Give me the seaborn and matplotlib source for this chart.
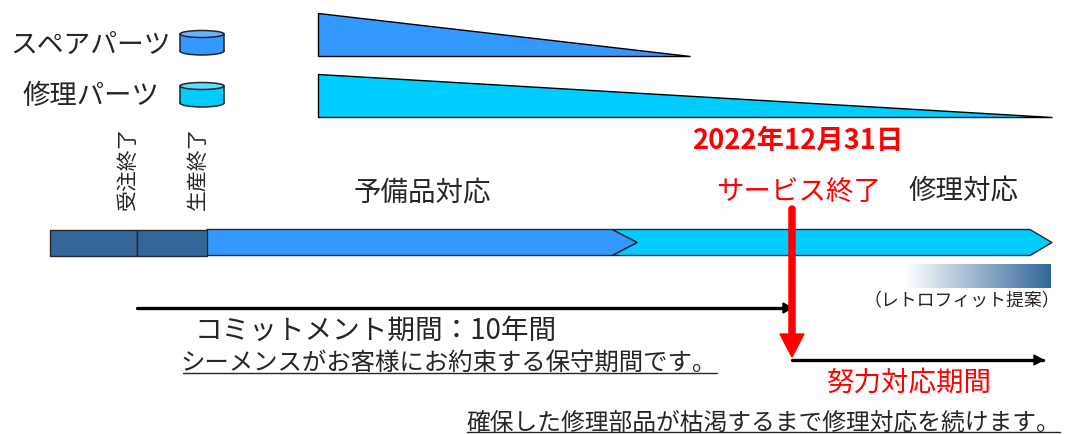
import matplotlib.pyplot as plt
import numpy as np
import seaborn as sns
from matplotlib.colors import LinearSegmentedColormap
from matplotlib.patches import Ellipse, Rectangle

# all positions are in pixels of the reference picture
DARK = "#336699"
BLUE = "#3399FF"
CYAN = "#00CCFF"
RED = "#FF0000"
INK = "#262626"

spare_x = [318, 318, 690]
spare_y = [14, 57, 57]
repair_x = [318, 318, 1052]
repair_y = [75, 118, 118]

bar_top = 230.5
bar_bottom = 256.5
bar_mid = 243.5
bar_start = 50
order_end = 137
production_end = 207
spare_end = 612
spare_tip = 637
repair_end = 1030
repair_tip = 1052

service_end = 792
commit_y = 309
effort_y = 361
effort_end = 1043

cylinder_names = ["スペアパーツ", "修理パーツ"]
cylinder_tops = [31, 83]
cylinder_colors = [BLUE, CYAN]
cylinder_lids = ["#66B3FF", "#66D9FF"]
cylinder_label_right = [171, 159]
cylinder_label_size = [19.3, 19.7]

sns.set_theme(style="white")
plt.rcParams["font.family"] = ["Noto Sans CJK JP", "DejaVu Sans"]

fig, ax = plt.subplots(figsize=(10.77, 4.35), dpi=100)
fig.subplots_adjust(0, 0, 1, 1)


def line(x, y, **kwargs):
    # estimator=None or seaborn averages the vertical lines away
    sns.lineplot(x=x, y=y, ax=ax, estimator=None, sort=False, errorbar=None, **kwargs)


def arrow(x, y, head=9):
    line(x, y, color="black", linewidth=2.4)
    ax.fill(
        [x[1] - head, x[1], x[1] - head],
        [y[1] - 5, y[1], y[1] + 5],
        color="black",
        zorder=4,
    )


def cylinder(top, face, lid):
    ax.add_patch(Ellipse((202, top + 21), 44, 8, fc=face, ec=INK, lw=1.1, zorder=2))
    ax.add_patch(Rectangle((180, top + 4), 44, 17, fc=face, ec="none", zorder=3))
    line([180, 180], [top + 4, top + 21], color=INK, linewidth=1.1, zorder=4)
    line([224, 224], [top + 4, top + 21], color=INK, linewidth=1.1, zorder=4)
    ax.add_patch(Ellipse((202, top + 4), 44, 7, fc=lid, ec=INK, lw=1.1, zorder=5))


# stock triangles
ax.fill(spare_x, spare_y, fc=BLUE, ec="black", lw=1.0)
ax.fill(repair_x, repair_y, fc=CYAN, ec="black", lw=1.0)

for i, name in enumerate(cylinder_names):
    cylinder(cylinder_tops[i], cylinder_colors[i], cylinder_lids[i])
    ax.text(
        cylinder_label_right[i],
        cylinder_tops[i] + 14,
        name,
        fontsize=cylinder_label_size[i],
        color=INK,
        ha="right",
        va="center",
    )

# timeline
ax.fill(
    [spare_end, repair_end, repair_tip, repair_end, spare_end, spare_tip],
    [bar_top, bar_top, bar_mid, bar_bottom, bar_bottom, bar_mid],
    fc=CYAN, ec=INK, lw=1.0,
)
ax.fill(
    [production_end, spare_end, spare_tip, spare_end, production_end],
    [bar_top, bar_top, bar_mid, bar_bottom, bar_bottom],
    fc=BLUE, ec=INK, lw=1.0,
)
for x0, x1 in [(bar_start, order_end), (order_end, production_end)]:
    ax.add_patch(Rectangle((x0, bar_top), x1 - x0, bar_bottom - bar_top, fc=DARK, ec=INK, lw=1.0))

# retrofit gradient
cmap = LinearSegmentedColormap.from_list("retrofit", ["#FFFFFF", DARK])
ax.imshow(
    np.linspace(0, 1, 256).reshape(1, -1),
    cmap=cmap,
    extent=(905, 1051, 289, 265),
    aspect="auto",
    zorder=1,
)

# service end marker
line([service_end, service_end], [210, 336], color=RED, linewidth=5.4, zorder=5)
ax.fill(
    [service_end - 12, service_end + 12, service_end],
    [335, 335, 358],
    color=RED,
    zorder=5,
)

arrow([order_end, service_end], [commit_y, commit_y])
arrow([service_end, effort_end], [effort_y, effort_y])

ax.text(798, 141, "2022年12月31日", fontsize=19.7, color=RED, fontweight="bold", ha="center", va="center")
ax.text(799, 192, "サービス終了", fontsize=19.8, color=RED, ha="center", va="center")
ax.text(964, 192, "修理対応", fontsize=19.8, color=INK, ha="center", va="center")
ax.text(422, 194, "予備品対応", fontsize=19.8, color=INK, ha="center", va="center")
ax.text(128, 168, "受注終了", fontsize=15, color=INK, rotation=90, ha="center", va="center")
ax.text(198, 168, "生産終了", fontsize=15, color=INK, rotation=90, ha="center", va="center")
ax.text(962, 301, "（レトロフィット提案）", fontsize=12.9, color=INK, ha="center", va="center")
ax.text(376, 331, "コミットメント期間：10年間", fontsize=19.9, color=INK, ha="center", va="center")
ax.text(449, 363, "シーメンスがお客様にお約束する保守期間です。", fontsize=17.6, color=INK, ha="center", va="center")
ax.text(909, 384, "努力対応期間", fontsize=19.8, color=RED, ha="center", va="center")
ax.text(763, 423, "確保した修理部品が枯渇するまで修理対応を続けます。", fontsize=17.1, color=INK, ha="center", va="center")

line([183, 717], [374, 374], color=INK, linewidth=1.0)
line([467, 1060], [433, 433], color=INK, linewidth=1.0)

ax.set_xlim(0, 1077)
ax.set_ylim(435, 0)
ax.set_axis_off()

fig.savefig("out.png", dpi=100)
